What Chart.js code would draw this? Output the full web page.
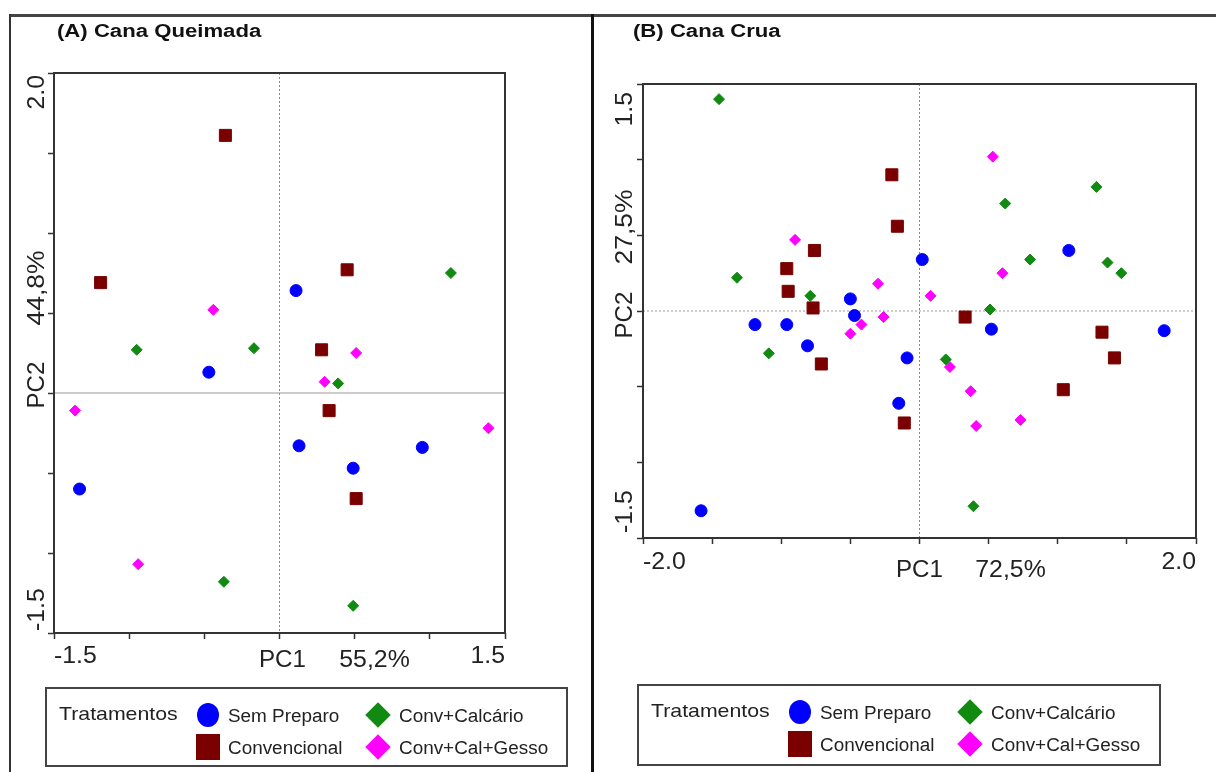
<!DOCTYPE html>
<html>
<head>
<meta charset="utf-8">
<script src="https://cdn.jsdelivr.net/npm/chart.js@4.4.0/dist/chart.umd.min.js"></script>
<style>
  body { margin: 0; width: 1216px; height: 772px; background: #fff; position: relative; overflow: hidden;
         font-family: "Liberation Sans", Arial, sans-serif; }
  canvas { position: absolute; left: 0; top: 0; }
  .line { position: absolute; background: #333; }
  .legend { position: absolute; border: 2px solid #444; box-sizing: border-box; }
  .lbl { position: absolute; font-size: 18px; color: #222; line-height: 1; white-space: nowrap;
         transform-origin: left center; transform: translateY(-50%) scaleX(1.05); }
  .mk { position: absolute; }
</style>
</head>
<body>
<div class="line" style="left:9px;top:14px;width:1207px;height:3px;background:#444"></div>
<div class="line" style="left:9px;top:14px;width:2px;height:758px"></div>
<div class="line" style="left:591px;top:14px;width:3px;height:758px;background:#111"></div>

<canvas id="chartA" width="1216" height="772"></canvas>
<canvas id="chartB" width="1216" height="772"></canvas>

<div class="legend" id="legA" style="left:45px;top:687px;width:523px;height:80px"></div>
<div class="legend" id="legB" style="left:637px;top:684px;width:524px;height:82px"></div>

<script>
// series, in legend order
const seriesNames = ["Sem Preparo", "Convencional", "Conv+Calcário", "Conv+Cal+Gesso"];
const seriesColors = ["#0000ff", "#7a0000", "#118a11", "#ff00ff"];
const seriesStyles = ["circle", "rect", "rectRot", "rectRot"];
const seriesRadius = [6, 8.5, 5.5, 5.5];

// (A) Cana Queimada  -  [PC1, PC2]
const semPreparoA = [[0.11, 0.64], [-0.47, 0.13], [0.13, -0.33], [0.95, -0.34], [0.49, -0.47], [-1.33, -0.60]];
const convencionalA = [[-0.36, 1.61], [-1.19, 0.69], [0.45, 0.77], [0.28, 0.27], [0.33, -0.11], [0.51, -0.66]];
const calcarioA = [[1.14, 0.75], [-0.95, 0.27], [-0.17, 0.28], [0.39, 0.06], [-0.37, -1.18], [0.49, -1.33]];
const gessoA = [[-0.44, 0.52], [0.51, 0.25], [0.30, 0.07], [-1.36, -0.11], [1.39, -0.22], [-0.94, -1.07]];

// (B) Cana Crua  -  [PC1, PC2]
const semPreparoB = [[0.02, 0.34], [1.08, 0.40], [-0.50, 0.08], [-0.47, -0.03], [-1.19, -0.09], [-0.96, -0.09],
                     [0.52, -0.12], [1.77, -0.13], [-0.81, -0.23], [-0.09, -0.31], [-0.15, -0.61], [-1.58, -1.32]];
const convencionalB = [[-0.20, 0.90], [-0.16, 0.56], [-0.76, 0.40], [-0.96, 0.28], [-0.95, 0.13], [-0.77, 0.02],
                       [0.33, -0.04], [1.32, -0.14], [-0.71, -0.35], [1.41, -0.31], [1.04, -0.52], [-0.11, -0.74]];
const calcarioB = [[-1.45, 1.40], [1.28, 0.82], [0.62, 0.71], [0.80, 0.34], [1.36, 0.32], [1.46, 0.25],
                   [-1.32, 0.22], [-0.79, 0.10], [0.51, 0.01], [-1.09, -0.28], [0.19, -0.32], [0.39, -1.29]];
const gessoB = [[0.53, 1.02], [-0.90, 0.47], [0.60, 0.25], [-0.30, 0.18], [0.08, 0.10], [-0.26, -0.04],
                [-0.42, -0.09], [-0.50, -0.15], [0.22, -0.37], [0.37, -0.53], [0.73, -0.72], [0.41, -0.76]];

// axis ranges (min, max) and titles
const xRangeA = [-1.5, 1.5], yRangeA = [-1.5, 2.0];
const xRangeB = [-2.0, 2.0], yRangeB = [-1.5, 1.5];
const xTickLabelsA = ["-1.5", "1.5"], yTickLabelsA = ["-1.5", "2.0"];
const xTickLabelsB = ["-2.0", "2.0"], yTickLabelsB = ["-1.5", "1.5"];
const axisTitlesA = ["PC1", "55,2%", "PC2", "44,8%"];
const axisTitlesB = ["PC1", "72,5%", "PC2", "27,5%"];

const FONT = '"Liberation Sans", Arial, sans-serif';

function txt(ctx, s, x, y, o) {
  ctx.save();
  ctx.translate(x, y);
  if (o.rot) ctx.rotate(o.rot);
  ctx.scale(o.sx || 1, 1);
  ctx.font = o.font || ("23px " + FONT);
  ctx.fillStyle = o.color || "#222";
  ctx.textAlign = o.align || "center";
  ctx.textBaseline = "middle";
  ctx.fillText(s, 0, 0);
  ctx.restore();
}

function makePanel(id, series, xr, yr, padding, deco) {
  const datasets = series.map((pts, i) => ({
    label: seriesNames[i],
    data: pts.map(p => ({x: p[0], y: p[1]})),
    pointStyle: seriesStyles[i],
    pointRadius: seriesRadius[i],
    pointHoverRadius: seriesRadius[i],
    backgroundColor: seriesColors[i],
    borderColor: seriesColors[i],
    borderWidth: 1
  }));

  const axisOpts = (r) => ({
    type: "linear",
    min: r[0],
    max: r[1],
    ticks: { stepSize: 0.5, display: false },
    grid: { drawOnChartArea: false, drawTicks: true, tickLength: 6, tickColor: "#333", tickWidth: 1.5 },
    border: { display: false },
    afterFit: (s) => { if (s.isHorizontal()) s.height = 6; else s.width = 6; }
  });

  const decor = {
    id: "decor_" + id,
    beforeDatasetsDraw(chart) {
      const ctx = chart.ctx, ca = chart.chartArea;
      const x0 = chart.scales.x.getPixelForValue(0);
      const y0 = chart.scales.y.getPixelForValue(0);
      ctx.save();
      ctx.lineWidth = 1;
      ctx.strokeStyle = "#888";
      ctx.setLineDash([2, 2]);
      ctx.beginPath();
      ctx.moveTo(x0, ca.top); ctx.lineTo(x0, ca.bottom);
      ctx.stroke();
      ctx.setLineDash(deco.hDash);
      ctx.strokeStyle = "#999";
      ctx.beginPath();
      ctx.moveTo(ca.left, y0); ctx.lineTo(ca.right, y0);
      ctx.stroke();
      ctx.restore();
    },
    afterDraw(chart) {
      const ctx = chart.ctx, ca = chart.chartArea;
      const xs = chart.scales.x, ys = chart.scales.y;
      ctx.save();
      ctx.lineWidth = 2;
      ctx.strokeStyle = "#333";
      ctx.strokeRect(ca.left, ca.top, ca.right - ca.left, ca.bottom - ca.top);
      ctx.restore();
      // title
      txt(ctx, deco.title, deco.titleX, 32, {font: "bold 18px " + FONT, align: "left", sx: 1.23, color: "#111"});
      // x tick labels at the ends, aligned inward
      const xl = deco.xTicks, yl = deco.yTicks, t = deco.titles;
      txt(ctx, xl[0], xs.getPixelForValue(xr[0]), ca.bottom + deco.xTickDy, {align: "left", sx: 1.08});
      txt(ctx, xl[1], xs.getPixelForValue(xr[1]), ca.bottom + deco.xTickDy, {align: "right", sx: 1.08});
      // x axis title
      txt(ctx, t[0], xs.getPixelForValue(0) + deco.pc1Dx, ca.bottom + deco.xTitleDy, {sx: 1.05});
      txt(ctx, t[1], xs.getPixelForValue(0) + deco.pctXDx, ca.bottom + deco.xTitleDy, {sx: 1.08});
      // y tick labels (rotated), aligned inward
      const rot = -Math.PI / 2, lx = ca.left - deco.yLabelDx;
      txt(ctx, yl[0], lx, ys.getPixelForValue(yr[0]) - deco.yBotOff, {rot, align: "left", sx: 1.08});
      txt(ctx, yl[1], lx, ys.getPixelForValue(yr[1]) + deco.yTopOff, {rot, align: "right", sx: 1.08});
      // y axis title
      txt(ctx, t[2], lx, ys.getPixelForValue(0) + deco.pc2Dy, {rot, sx: 1.05});
      txt(ctx, t[3], lx, ys.getPixelForValue(0) + deco.pctYDy, {rot, sx: 1.15});
    }
  };

  return new Chart(document.getElementById(id), {
    type: "scatter",
    data: { datasets },
    options: {
      responsive: false,
      animation: false,
      layout: { padding },
      plugins: { legend: { display: false }, tooltip: { enabled: false } },
      scales: { x: axisOpts(xr), y: axisOpts(yr) }
    },
    plugins: [decor]
  });
}

makePanel("chartA", [semPreparoA, convencionalA, calcarioA, gessoA], xRangeA, yRangeA,
  {left: 48, top: 73, right: 711, bottom: 133},
  {title: "(A) Cana Queimada", titleX: 57, xTicks: xTickLabelsA, yTicks: yTickLabelsA, titles: axisTitlesA,
   hDash: [], xTickDy: 24, xTitleDy: 28, pc1Dx: 3, pctXDx: 95,
   yLabelDx: 16, yBotOff: 2, yTopOff: 2, pc2Dy: -8, pctYDy: -105});

makePanel("chartB", [semPreparoB, convencionalB, calcarioB, gessoB], xRangeB, yRangeB,
  {left: 637, top: 84, right: 20, bottom: 228},
  {title: "(B) Cana Crua", titleX: 633, xTicks: xTickLabelsB, yTicks: yTickLabelsB, titles: axisTitlesB,
   hDash: [2, 2], xTickDy: 25, xTitleDy: 33, pc1Dx: 0, pctXDx: 91,
   yLabelDx: 17, yBotOff: 5, yTopOff: 8, pc2Dy: 4, pctYDy: -84});

// legends
function buildLegend(boxId) {
  const box = document.getElementById(boxId);
  const head = document.createElement("div");
  head.className = "lbl";
  head.style.left = "12px"; head.style.top = "24px"; head.style.fontSize = "19px";
  head.style.transform = "translateY(-50%) scaleX(1.12)";
  head.textContent = "Tratamentos";
  box.appendChild(head);
  seriesNames.forEach((name, i) => {
    const col = Math.floor(i / 2), row = i % 2;
    const cx = col ? 331 : 161, cy = row ? 58 : 26;
    const mk = document.createElement("div");
    mk.className = "mk";
    const c = seriesColors[i];
    if (seriesStyles[i] === "circle") {
      Object.assign(mk.style, {left: (cx - 11) + "px", top: (cy - 12) + "px", width: "22px", height: "24px",
        borderRadius: "50%", background: c});
    } else if (seriesStyles[i] === "rect") {
      Object.assign(mk.style, {left: (cx - 12) + "px", top: (cy - 13) + "px", width: "24px", height: "26px", background: c});
    } else {
      Object.assign(mk.style, {left: (cx - 9) + "px", top: (cy - 9) + "px", width: "18px", height: "18px",
        background: c, transform: "rotate(45deg)"});
    }
    box.appendChild(mk);
    const lb = document.createElement("div");
    lb.className = "lbl";
    lb.style.left = (col ? 352 : 181) + "px";
    lb.style.top = (cy + 1) + "px";
    lb.textContent = name;
    box.appendChild(lb);
  });
}
buildLegend("legA");
buildLegend("legB");
</script>
</body>
</html>
